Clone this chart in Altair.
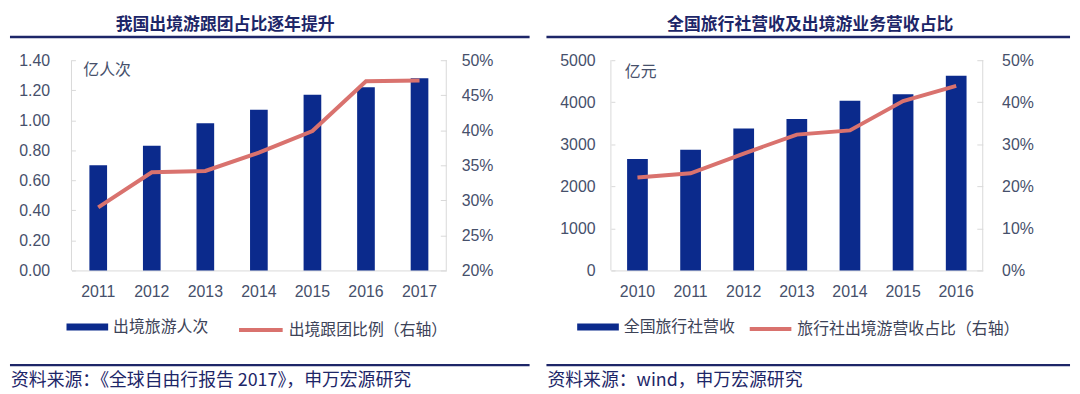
import altair as alt
import pandas as pd

# ---------------- data ----------------
years_left = ["2011", "2012", "2013", "2014", "2015", "2016", "2017"]
outbound_trips = [0.70, 0.83, 0.98, 1.07, 1.17, 1.22, 1.28]          # 亿人次
group_tour_share = [0.290, 0.340, 0.342, 0.368, 0.399, 0.470, 0.471]  # 右轴

years_right = ["2010", "2011", "2012", "2013", "2014", "2015", "2016"]
agency_revenue = [2649, 2871, 3374, 3599, 4033, 4189, 4631]           # 亿元
outbound_rev_share = [0.221, 0.231, 0.278, 0.323, 0.333, 0.403, 0.439]

left_y_ticks = [0.0, 0.2, 0.4, 0.6, 0.8, 1.0, 1.2, 1.4]
left_r_ticks = [0.20, 0.25, 0.30, 0.35, 0.40, 0.45, 0.50]
right_y_ticks = [0, 1000, 2000, 3000, 4000, 5000]
right_r_ticks = [0.0, 0.1, 0.2, 0.3, 0.4, 0.5]

# ---------------- style ----------------
NAVY = "#0B2A8C"
SALMON = "#D9726E"
TITLE_C = "#1D2668"
LABEL_C = "#46506B"
LEGEND_C = "#3C4257"
GRID = "#D9D9D9"
CJK = "Noto Sans CJK SC"
NUM = "Liberation Sans"
H = 212
LEG_Y = 248
BAR_SYM = "M-1,-0.17H1V0.17H-1Z"


def panel(years, bars_v, line_v, bar_name, line_name, W, pi, ydom, yticks, yfmt,
          rdom, rticks, rfmt, lpad, rpad, unit, unit_x, unit_y, title, title_x,
          source, leg_bar_x, leg_line_x, bar_sym_w, line_sym_w, rx0, rx1):
    df = pd.DataFrame({"year": years, "bar": bars_v, "line": line_v,
                       "bar_name": bar_name, "line_name": line_name})
    base = alt.Chart(df)
    x_enc = alt.X("year:N", sort=years,
                  scale=alt.Scale(paddingInner=pi, paddingOuter=pi / 2),
                  axis=alt.Axis(title=None, labelAngle=0, ticks=False, tickSize=0,
                                domainColor=GRID, domainWidth=1, labelFont=NUM,
                                labelFontSize=16, labelColor=LABEL_C, labelPadding=13))
    bars = base.mark_bar().encode(
        x=x_enc,
        y=alt.Y("bar:Q", scale=alt.Scale(domain=ydom, nice=False),
                axis=alt.Axis(title=None, values=yticks, format=yfmt, orient="left",
                              offset=-4, tickSize=4, tickColor=GRID, domain=False,
                              grid=False, labelPadding=lpad, labelFont=NUM,
                              labelFontSize=16, labelColor=LABEL_C)),
        color=alt.Color("bar_name:N", scale=alt.Scale(domain=[bar_name], range=[NAVY]),
                        legend=alt.Legend(title=None, orient="none", legendX=leg_bar_x,
                                          legendY=LEG_Y, symbolType=BAR_SYM,
                                          symbolSize=bar_sym_w ** 2, symbolStrokeWidth=0,
                                          labelFont=CJK, labelFontSize=16, labelLimit=400,
                                          labelColor=LEGEND_C, labelOffset=5, padding=0)),
    )
    line = base.mark_line(strokeWidth=4).encode(
        x=x_enc,
        y=alt.Y("line:Q", scale=alt.Scale(domain=rdom, nice=False, zero=False),
                axis=alt.Axis(title=None, values=rticks, format=rfmt, orient="right",
                              offset=-6, tickSize=6, tickColor=GRID, domain=False,
                              grid=False, labelPadding=rpad, labelFont=NUM,
                              labelFontSize=16, labelColor=LABEL_C)),
        stroke=alt.Stroke("line_name:N", scale=alt.Scale(domain=[line_name], range=[SALMON]),
                          legend=alt.Legend(title=None, orient="none", legendX=leg_line_x,
                                            legendY=LEG_Y, symbolType="stroke",
                                            symbolSize=line_sym_w ** 2, symbolStrokeWidth=4,
                                            labelFont=CJK, labelFontSize=16, labelLimit=400,
                                            labelColor=LEGEND_C, labelOffset=4, padding=0)),
    )
    one = alt.Chart(pd.DataFrame({"k": [0]}))
    vline_l = one.mark_rule(color=GRID, strokeWidth=1).encode(
        x=alt.value(0), y=alt.value(0), y2=alt.value(H))
    vline_r = one.mark_rule(color=GRID, strokeWidth=1).encode(
        x=alt.value(W), y=alt.value(0), y2=alt.value(H))
    title_txt = alt.Chart(pd.DataFrame({"t": [title]})).mark_text(
        font=CJK, fontSize=17, fontWeight="bold", color=TITLE_C,
        align="center", baseline="middle").encode(
        text="t:N", x=alt.value(title_x), y=alt.value(-35.5))
    top_rule = one.mark_rule(color=TITLE_C, strokeWidth=2.5).encode(
        x=alt.value(rx0), x2=alt.value(rx1), y=alt.value(-23.5))
    bot_rule = one.mark_rule(color=TITLE_C, strokeWidth=2.5).encode(
        x=alt.value(rx0), x2=alt.value(rx1), y=alt.value(307.5))
    src_txt = alt.Chart(pd.DataFrame({"t": [source]})).mark_text(
        font=CJK, fontSize=18, color=TITLE_C, align="left", baseline="middle").encode(
        text="t:N", x=alt.value(rx0 + 1), y=alt.value(324))
    unit_txt = alt.Chart(pd.DataFrame({"t": [unit]})).mark_text(
        font=CJK, fontSize=16, color=LABEL_C, align="left", baseline="middle").encode(
        text="t:N", x=alt.value(unit_x), y=alt.value(unit_y))
    return alt.layer(bars, line, vline_l, vline_r, title_txt, top_rule, bot_rule,
                     src_txt, unit_txt).resolve_scale(y="independent").properties(
        width=W, height=H)


left = panel(years_left, outbound_trips, group_tour_share, "出境旅游人次",
             "出境跟团比例（右轴）", 378, 0.67, [0, 1.4], left_y_ticks, ".2f",
             [0.2, 0.5], left_r_ticks, ".0%", 22, 15, "亿人次", 12, 10,
             "我国出境游跟团占比逐年提升", 155,
             "资料来源：《全球自由行报告 2017》，申万宏源研究",
             -5, 167, 42, 44, -62, 462)

right = panel(years_right, agency_revenue, outbound_rev_share, "全国旅行社营收",
              "旅行社出境游营收占比（右轴）", 375, 0.61, [0, 5000], right_y_ticks, "d",
              [0, 0.5], right_r_ticks, ".0%", 16, 19, "亿元", 14, 12,
              "全国旅行社营收及出境游业务营收占比", 201,
              "资料来源：wind，申万宏源研究",
              -34, 138, 42, 42, -65, 463)

chart = alt.hconcat(left, right, spacing=166, bounds="flush").resolve_scale(
    color="independent", stroke="independent").resolve_legend(
    color="independent", stroke="independent").configure_view(
    stroke=None).properties(padding={"left": 0, "top": 6, "right": 0, "bottom": 3})

chart.save("out.html", embed_options={"renderer": "svg", "actions": False})
